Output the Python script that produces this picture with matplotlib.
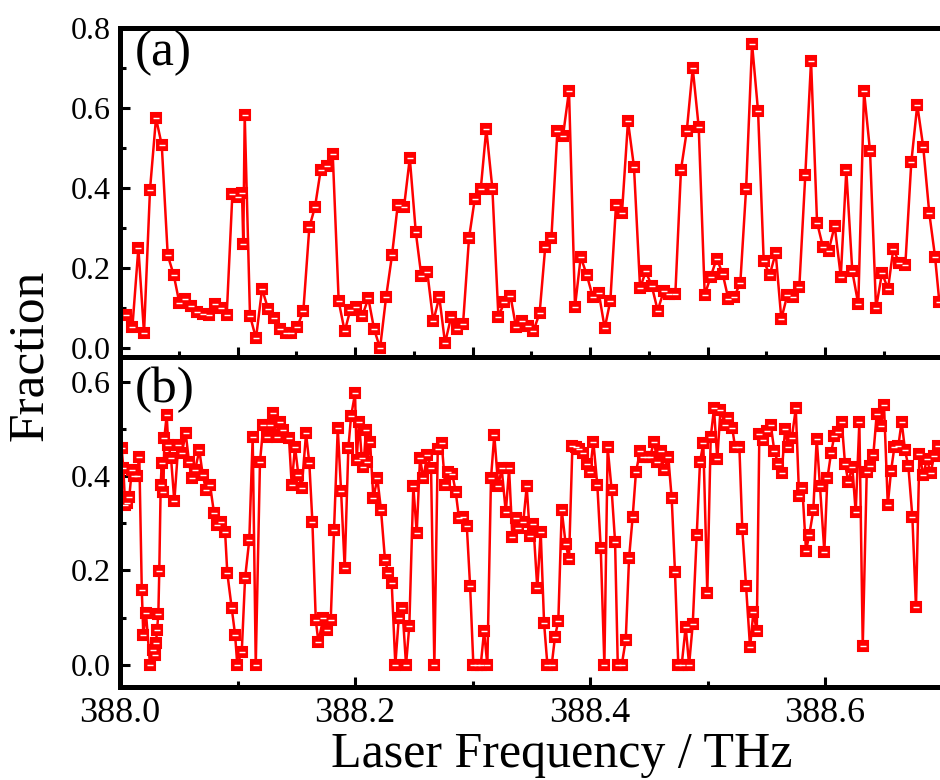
import numpy as np
import matplotlib
matplotlib.use("Agg")
import matplotlib.pyplot as plt
from matplotlib.ticker import MultipleLocator

plt.rcParams['font.family'] = ['Liberation Serif', 'DejaVu Serif']

# (a) laser frequency offset from 388 THz, and fraction
freq_a = [0.0051, 0.0105, 0.0156, 0.0204, 0.0255, 0.0306, 0.0355, 0.0406, 0.0457, 0.0505,
          0.0556, 0.0604, 0.0655, 0.0706, 0.0757, 0.0806, 0.0857, 0.0908, 0.0956, 0.1007,
          0.1038, 0.1049, 0.1061, 0.1106, 0.1157, 0.1209, 0.1260, 0.1308, 0.1359, 0.1410,
          0.1458, 0.1509, 0.1560, 0.1611, 0.1660, 0.1708, 0.1759, 0.1810, 0.1861, 0.1912,
          0.1960, 0.2011, 0.2062, 0.2113, 0.2162, 0.2213, 0.2264, 0.2315, 0.2363, 0.2417,
          0.2466, 0.2517, 0.2564, 0.2615, 0.2666, 0.2717, 0.2766, 0.2817, 0.2866, 0.2919,
          0.2970, 0.3019, 0.3070, 0.3117, 0.3169, 0.3220, 0.3271, 0.3323, 0.3370, 0.3419,
          0.3470, 0.3517, 0.3571, 0.3619, 0.3671, 0.3722, 0.3770, 0.3821, 0.3872, 0.3921,
          0.3972, 0.4023, 0.4074, 0.4125, 0.4173, 0.4221, 0.4272, 0.4323, 0.4374, 0.4426,
          0.4474, 0.4525, 0.4576, 0.4627, 0.4674, 0.4726, 0.4774, 0.4823, 0.4874, 0.4925,
          0.4976, 0.5027, 0.5078, 0.5129, 0.5177, 0.5228, 0.5279, 0.5328, 0.5379, 0.5430,
          0.5478, 0.5529, 0.5580, 0.5628, 0.5679, 0.5730, 0.5781, 0.5832, 0.5881, 0.5932,
          0.5983, 0.6031, 0.6082, 0.6134, 0.6181, 0.6232, 0.6283, 0.6332, 0.6383, 0.6434,
          0.6485, 0.6536, 0.6581, 0.6632, 0.6683, 0.6734, 0.6785, 0.6836, 0.6887, 0.6936,
          0.6973]
frac_a = [0.083, 0.052, 0.25, 0.038, 0.396, 0.575, 0.508, 0.232, 0.183, 0.113,
          0.123, 0.106, 0.09, 0.085, 0.082, 0.111, 0.10, 0.083, 0.385, 0.378,
          0.388, 0.26, 0.583, 0.081, 0.025, 0.148, 0.098, 0.075, 0.048, 0.039,
          0.039, 0.054, 0.093, 0.302, 0.354, 0.446, 0.454, 0.486, 0.117, 0.042,
          0.096, 0.103, 0.081, 0.125, 0.048, 0.0, 0.127, 0.233, 0.357, 0.353,
          0.475, 0.29, 0.181, 0.19, 0.067, 0.128, 0.013, 0.077, 0.048, 0.06,
          0.275, 0.373, 0.398, 0.548, 0.398, 0.079, 0.115, 0.131, 0.052, 0.069,
          0.056, 0.042, 0.088, 0.254, 0.275, 0.542, 0.531, 0.643, 0.104, 0.228,
          0.183, 0.129, 0.139, 0.05, 0.119, 0.358, 0.339, 0.567, 0.453, 0.15,
          0.192, 0.156, 0.094, 0.143, 0.136, 0.136, 0.446, 0.542, 0.70, 0.552,
          0.133, 0.179, 0.224, 0.186, 0.123, 0.129, 0.163, 0.398, 0.76, 0.592,
          0.218, 0.183, 0.238, 0.073, 0.133, 0.127, 0.153, 0.433, 0.718, 0.314,
          0.252, 0.244, 0.306, 0.179, 0.444, 0.192, 0.11, 0.642, 0.492, 0.10,
          0.188, 0.148, 0.248, 0.213, 0.207, 0.464, 0.608, 0.502, 0.338, 0.229,
          0.115]

# (b)
freq_b = [0.0014, 0.0028, 0.0043, 0.0062, 0.0079, 0.0100, 0.0119, 0.0142, 0.0164, 0.0185,
          0.0198, 0.0221, 0.0255, 0.0278, 0.0298, 0.0306, 0.0315, 0.0326, 0.0334, 0.0346,
          0.0355, 0.0369, 0.0377, 0.0397, 0.0411, 0.0434, 0.0462, 0.0496, 0.0525, 0.0559,
          0.0587, 0.0610, 0.0638, 0.0675, 0.0704, 0.0732, 0.0766, 0.0800, 0.0823, 0.0860,
          0.0894, 0.0913, 0.0951, 0.0979, 0.0998, 0.1036, 0.1064, 0.1100, 0.1129, 0.1155,
          0.1191, 0.1220, 0.1248, 0.1277, 0.1305, 0.1334, 0.1362, 0.1390, 0.1438, 0.1461,
          0.1489, 0.1518, 0.1546, 0.1583, 0.1611, 0.1637, 0.1666, 0.1688, 0.1730, 0.1759,
          0.1793, 0.1821, 0.1853, 0.1881, 0.1912, 0.1943, 0.1966, 0.2000, 0.2014, 0.2034,
          0.2057, 0.2071, 0.2094, 0.2105, 0.2128, 0.2156, 0.2190, 0.2221, 0.2255, 0.2283,
          0.2312, 0.2343, 0.2372, 0.2403, 0.2434, 0.2462, 0.2496, 0.2525, 0.2553, 0.2581,
          0.2615, 0.2647, 0.2675, 0.2704, 0.2738, 0.2766, 0.2794, 0.2828, 0.2857, 0.2885,
          0.2922, 0.2951, 0.2979, 0.3007, 0.3036, 0.3070, 0.3098, 0.3126, 0.3157, 0.3185,
          0.3219, 0.3248, 0.3283, 0.3311, 0.3339, 0.3368, 0.3390, 0.3432, 0.3461, 0.3489,
          0.3517, 0.3551, 0.3580, 0.3609, 0.3637, 0.3674, 0.3702, 0.3730, 0.3759, 0.3793,
          0.3821, 0.3850, 0.3878, 0.3906, 0.3943, 0.3972, 0.4000, 0.4028, 0.4062, 0.4091,
          0.4122, 0.4150, 0.4184, 0.4213, 0.4236, 0.4270, 0.4304, 0.4332, 0.4363, 0.4391,
          0.4426, 0.4454, 0.4482, 0.4511, 0.4545, 0.4573, 0.4602, 0.4632, 0.4666, 0.4695,
          0.4723, 0.4751, 0.4780, 0.4814, 0.4843, 0.4874, 0.4908, 0.4936, 0.4964, 0.4998,
          0.5027, 0.5055, 0.5083, 0.5110, 0.5149, 0.5177, 0.5211, 0.5234, 0.5271, 0.5296,
          0.5328, 0.5362, 0.5390, 0.5419, 0.5441, 0.5475, 0.5504, 0.5538, 0.5569, 0.5602,
          0.5631, 0.5660, 0.5688, 0.5717, 0.5751, 0.5779, 0.5807, 0.5838, 0.5866, 0.5900,
          0.5929, 0.5957, 0.5994, 0.6020, 0.6051, 0.6079, 0.6113, 0.6142, 0.6170, 0.6198,
          0.6232, 0.6261, 0.6292, 0.6321, 0.6355, 0.6383, 0.6411, 0.6440, 0.6474, 0.6502,
          0.6534, 0.6562, 0.6590, 0.6624, 0.6652, 0.6681, 0.6709, 0.6743, 0.6774, 0.6803,
          0.6836, 0.6866, 0.6900, 0.6928, 0.6964]
frac_b = [0.459, 0.416, 0.339, 0.342, 0.356, 0.413, 0.399, 0.399, 0.441, 0.159,
          0.064, 0.109, 0.0, 0.032, 0.021, 0.046, 0.074, 0.108, 0.198, 0.381,
          0.427, 0.367, 0.48, 0.529, 0.466, 0.438, 0.346, 0.466, 0.448, 0.49,
          0.43, 0.395, 0.413, 0.454, 0.402, 0.37, 0.381, 0.321, 0.296, 0.302,
          0.282, 0.194, 0.12, 0.064, 0.0, 0.028, 0.183, 0.265, 0.483, 0.0,
          0.43, 0.508, 0.483, 0.508, 0.533, 0.483, 0.515, 0.498, 0.48, 0.381,
          0.462, 0.402, 0.374, 0.49, 0.427, 0.303, 0.094, 0.049, 0.099, 0.073,
          0.095, 0.286, 0.501, 0.369, 0.205, 0.459, 0.526, 0.575, 0.434, 0.515,
          0.438, 0.42, 0.498, 0.43, 0.473, 0.353, 0.395, 0.328, 0.222, 0.194,
          0.174, 0.0, 0.099, 0.12, 0.0, 0.083, 0.378, 0.28, 0.438, 0.395,
          0.445, 0.416, 0.0, 0.457, 0.469, 0.381, 0.409, 0.404, 0.366, 0.31,
          0.314, 0.295, 0.168, 0.0, 0.0, 0.0, 0.071, 0.0, 0.395, 0.487,
          0.378, 0.416, 0.323, 0.416, 0.27, 0.31, 0.289, 0.303, 0.378, 0.272,
          0.299, 0.162, 0.282, 0.088, 0.0, 0.0, 0.06, 0.093, 0.328, 0.255,
          0.224, 0.464, 0.461, 0.457, 0.448, 0.426, 0.409, 0.473, 0.381, 0.247,
          0.0, 0.461, 0.37, 0.261, 0.0, 0.0, 0.053, 0.226, 0.314, 0.409,
          0.452, 0.441, 0.441, 0.441, 0.473, 0.43, 0.452, 0.413, 0.44, 0.353,
          0.196, 0.0, 0.0, 0.081, 0.0, 0.086, 0.275, 0.43, 0.469, 0.153,
          0.482, 0.543, 0.435, 0.54, 0.508, 0.522, 0.501, 0.461, 0.461, 0.287,
          0.166, 0.037, 0.112, 0.071, 0.489, 0.476, 0.496, 0.508, 0.452, 0.426,
          0.406, 0.499, 0.461, 0.48, 0.543, 0.358, 0.374, 0.242, 0.275, 0.327,
          0.479, 0.378, 0.24, 0.395, 0.448, 0.485, 0.494, 0.515, 0.426, 0.388,
          0.42, 0.323, 0.514, 0.04, 0.409, 0.421, 0.445, 0.531, 0.505, 0.55,
          0.339, 0.411, 0.461, 0.464, 0.515, 0.454, 0.421, 0.314, 0.122, 0.447,
          0.402, 0.435, 0.407, 0.443, 0.464]

x_a = 388.0 + np.array(freq_a)
x_b = 388.0 + np.array(freq_b)

fig = plt.figure(figsize=(9.4, 7.8), dpi=100)
left, width = 0.1277, 0.90
ax1 = fig.add_axes([left, 0.5423, width, 0.4218])
ax2 = fig.add_axes([left, 0.1192, width, 0.4231])

# red square with a small white dash inside, like the original markers
style = dict(color='#ff0000', lw=1.8, marker='s', ms=6.5, mfc='#ff0000',
             mec='#ff0000', mew=1.5)
dash = dict(ls='none', marker='_', ms=4, mew=1.0, color='white')
ax1.plot(x_a, frac_a, **style)
ax1.plot(x_a, frac_a, **dash)
ax2.plot(x_b, frac_b, **style)
ax2.plot(x_b, frac_b, **dash)

for ax in (ax1, ax2):
    ax.set_xlim(388.0, 388.72)
    for s in ax.spines.values():
        s.set_linewidth(3.6)
    ax.tick_params(which='both', direction='in', top=False, right=False,
                   width=2.2, colors='black')
    ax.tick_params(which='major', length=7, pad=7)
    ax.tick_params(which='minor', length=4)
    ax.tick_params(axis='y', labelsize=23)
    ax.tick_params(axis='x', labelsize=26)

ax1.set_ylim(-0.022, 0.8)
ax1.yaxis.set_major_locator(MultipleLocator(0.2))
ax1.yaxis.set_minor_locator(MultipleLocator(0.1))
ax1.xaxis.set_major_locator(MultipleLocator(0.1))
ax1.xaxis.set_minor_locator(MultipleLocator(0.05))
ax1.tick_params(axis='x', labelbottom=False)
ax1.yaxis.set_major_formatter(lambda v, p: f"{v:.1f}")

ax2.set_ylim(-0.047, 0.652)
ax2.yaxis.set_major_locator(MultipleLocator(0.2))
ax2.yaxis.set_minor_locator(MultipleLocator(0.1))
ax2.xaxis.set_major_locator(MultipleLocator(0.2))
ax2.xaxis.set_minor_locator(MultipleLocator(0.1))
ax2.yaxis.set_major_formatter(lambda v, p: f"{v:.1f}")
ax2.xaxis.set_major_formatter(lambda v, p: f"{v:.1f}")

ax1.text(0.017, 0.925, "(a)", transform=ax1.transAxes, fontsize=37,
         ha='left', va='center')
ax2.text(0.017, 0.90, "(b)", transform=ax2.transAxes, fontsize=37,
         ha='left', va='center')

fig.text(30 / 940, 0.545, "Fraction", rotation=90, fontsize=37,
         ha='center', va='center')
fig.text(562 / 940, 0.003, "Laser Frequency / THz", fontsize=36,
         ha='center', va='bottom')

fig.savefig("out.png", dpi=100)
